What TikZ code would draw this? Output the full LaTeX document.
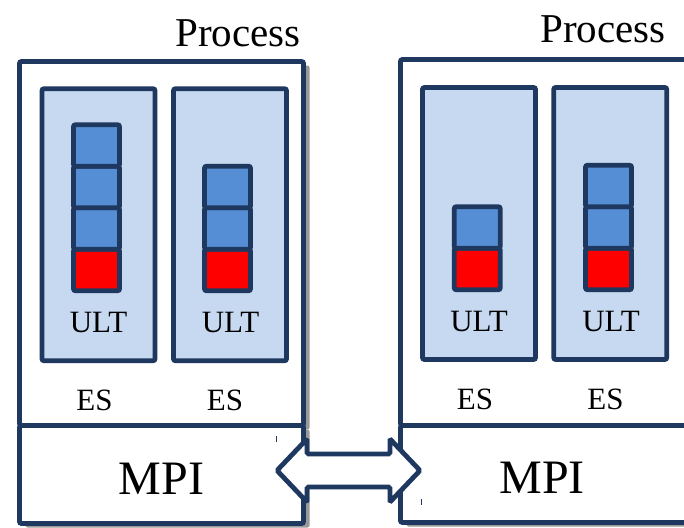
\documentclass[tikz,border=0pt]{standalone}
\usepackage{fontspec}
\setmainfont{Liberation Serif}
\usetikzlibrary{
  calc,
  positioning,
  shadows,
}
\definecolor{navy}{RGB}{31,56,96}
\definecolor{esblue}{RGB}{198,217,240}
\definecolor{cellblue}{RGB}{85,142,213}
\tikzset{
  box/.style={rectangle,draw=navy,line width=4.8pt,rounded corners=2pt,outer sep=0pt,inner sep=0pt},
  procbox/.style={box,fill=white,drop shadow={shadow xshift=6pt,shadow yshift=-4pt,fill=black!40,opacity=1}},
  esbox/.style={box,fill=esblue,minimum width=113,minimum height=272},
  cell/.style={box,fill=cellblue,minimum width=46,minimum height=41.5},
  runcell/.style={cell,fill=red},
  lbl/.style={anchor=base,inner sep=0pt,font=\fontsize{31}{37}\selectfont},
  biglbl/.style={lbl,font=\fontsize{48}{57}\selectfont},
  titlelbl/.style={lbl,font=\fontsize{41}{49}\selectfont},
  dblarrow/.style={draw=navy,fill=white,line width=4.8pt,rounded corners=1.5pt},
}

\begin{document}
\begin{tikzpicture}[x=1pt,y=-1pt,node distance=0mm and 0mm]
        \useasboundingbox (0,0) rectangle (684,527);

        % left process
        \node[procbox,minimum width=284,minimum height=364] (procA) at (161.5,243.5) {};
        \node[procbox,minimum width=284,minimum height=98] (mpiA) at (161.5,474.5) {};
        \node[titlelbl] (titleA) at (238,46.7) {Process};
        \node[esbox] (esA1) at (98.5,224.75) {};
        \node[esbox] (esA2) at (230,224.75) {};

        \node[runcell] (ultA1r) at (96.5,270) {};
        \node[cell] (ultA1c) [above=of ultA1r] {};
        \node[cell] (ultA1b) [above=of ultA1c] {};
        \node[cell] (ultA1a) [above=of ultA1b] {};
        \node[runcell] (ultA2r) at (227.5,270) {};
        \node[cell] (ultA2b) [above=of ultA2r] {};
        \node[cell] (ultA2a) [above=of ultA2b] {};

        \node[lbl] (ultA1) at (98.5,332) {ULT};
        \node[lbl] (ultA2) at (230.5,332) {ULT};
        \node[lbl] (esA1t) at (94.5,410) {ES};
        \node[lbl] (esA2t) at (225,410) {ES};
        \node[biglbl] (mpiAt) at (161.5,494) {MPI};

        % right process
        \node[procbox,minimum width=288,minimum height=366] (procB) at (544.5,242.5) {};
        \node[procbox,minimum width=288,minimum height=97] (mpiB) at (544.5,474) {};
        \node[titlelbl] (titleB) at (603,42) {Process};
        \node[esbox] (esB1) at (479,223.5) {};
        \node[esbox] (esB2) at (610.25,223.5) {};

        \node[runcell] (ultB1r) at (477.25,269) {};
        \node[cell] (ultB1a) [above=of ultB1r] {};
        \node[runcell] (ultB2r) at (608.5,269) {};
        \node[cell] (ultB2b) [above=of ultB2r] {};
        \node[cell] (ultB2a) [above=of ultB2b] {};

        \node[lbl] (ultB1) at (479,331) {ULT};
        \node[lbl] (ultB2) at (611,331) {ULT};
        \node[lbl] (esB1t) at (475,409) {ES};
        \node[lbl] (esB2t) at (605.5,409) {ES};
        \node[biglbl] (mpiBt) at (542,493) {MPI};

        % link between the two MPI boxes
        \coordinate (arr) at ($(mpiA.east)!0.5!(mpiB.west)+(-3.5,-3.75)$);
        \draw[dblarrow,shift={(arr)}] (-71.5,0) -- (-41.5,-31.5) -- (-41.5,-16.5) -- (41.5,-16.5) -- (41.5,-31.5)
          -- (71.5,0) -- (41.5,31.5) -- (41.5,16.5) -- (-41.5,16.5) -- (-41.5,31.5) -- cycle;

        \draw[navy,line width=0.8pt] (276,436) -- (276,442);
        \draw[navy,line width=0.8pt] (421,499) -- (421,505);

      \end{tikzpicture}
\end{document}
